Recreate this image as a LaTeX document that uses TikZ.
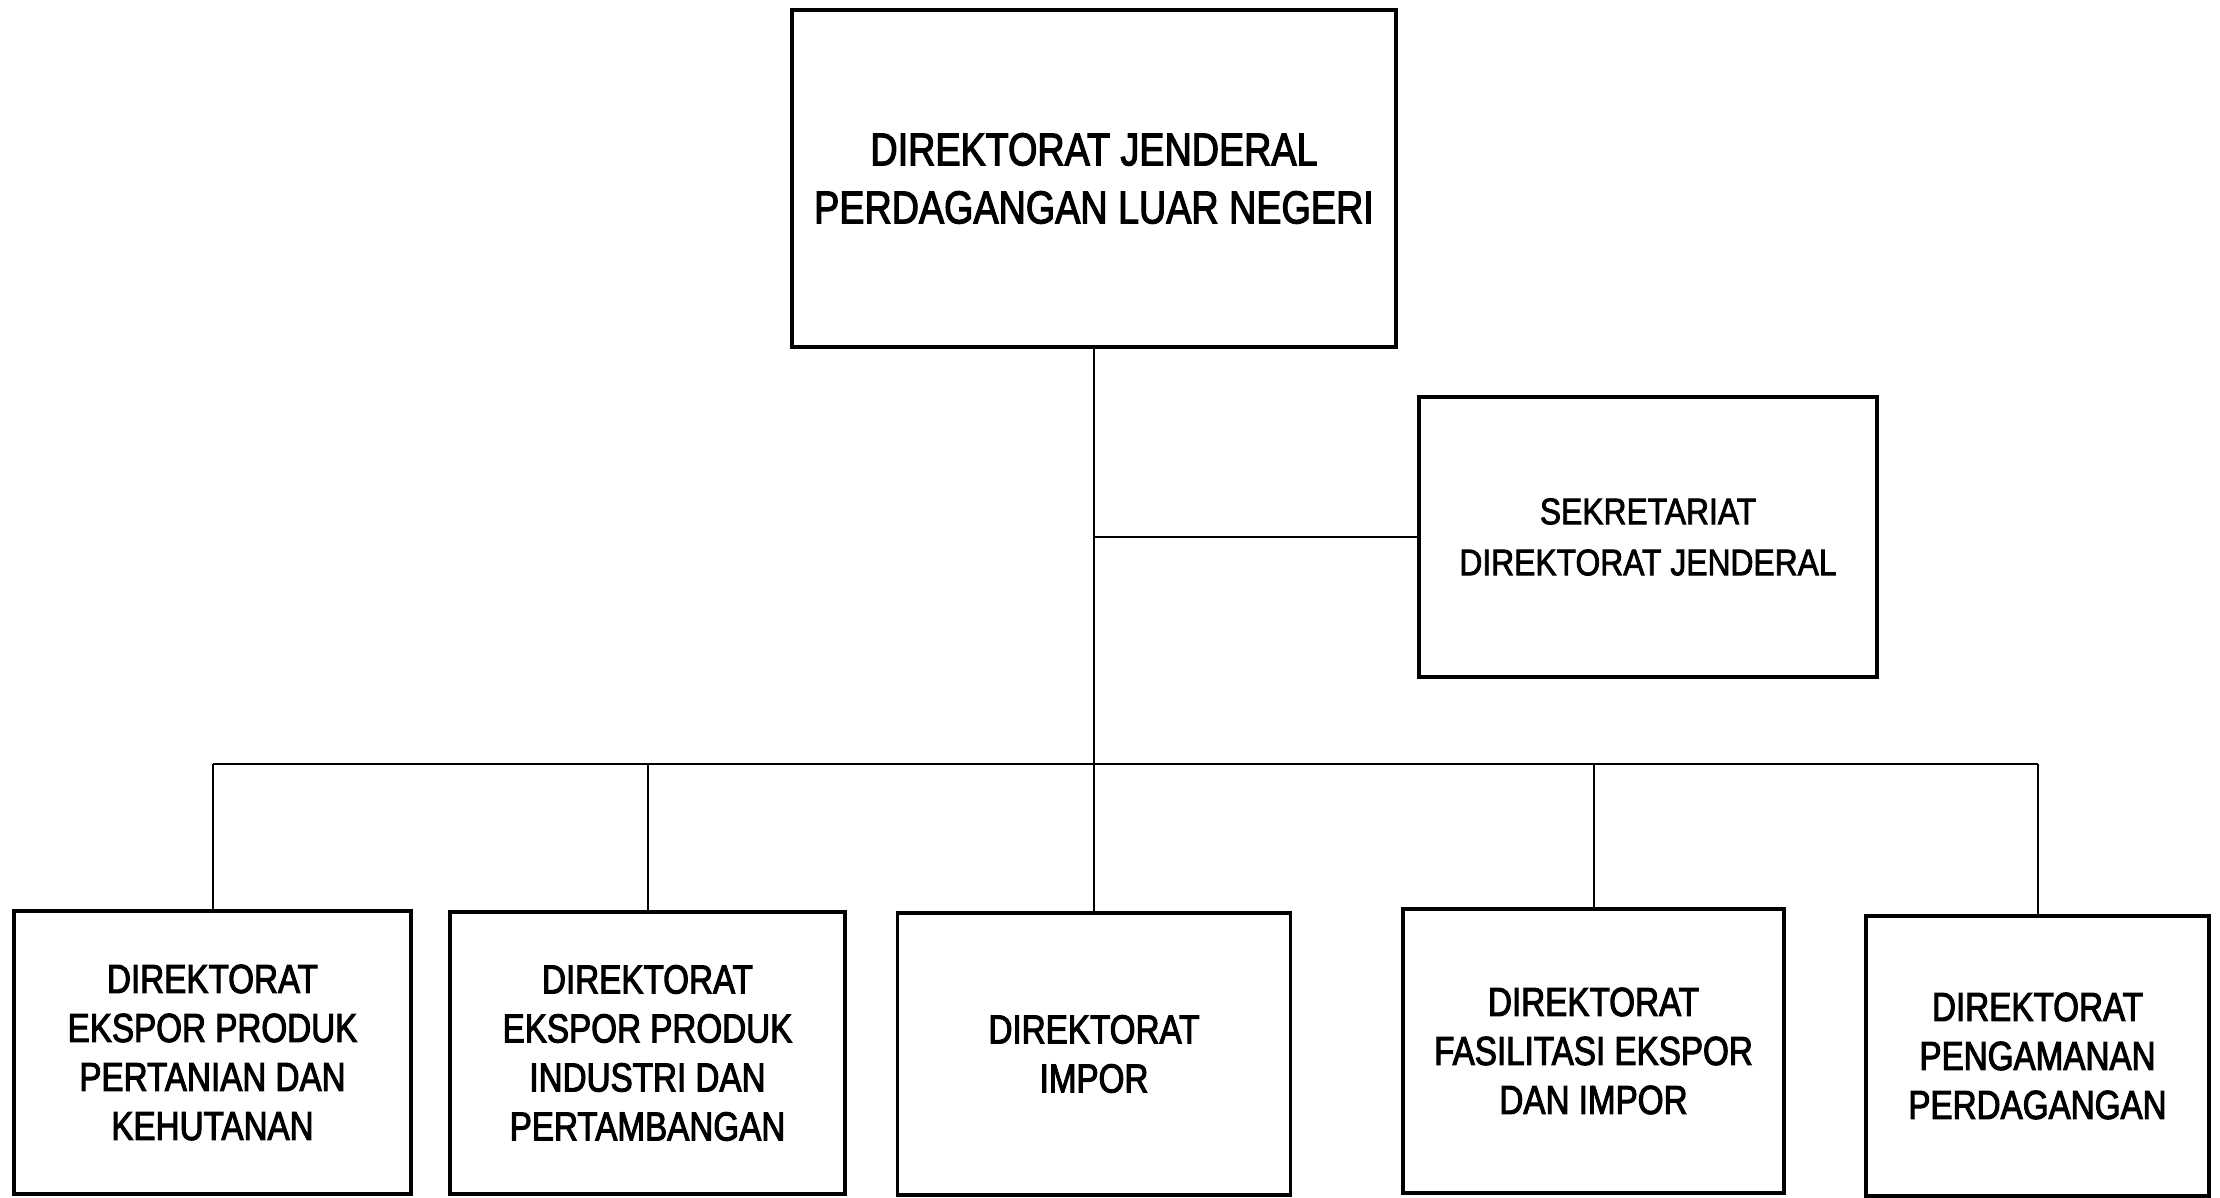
\documentclass[tikz,border=0pt]{standalone}
\usepackage{fontspec}
\setmainfont[FakeStretch=0.82,FakeBold=2.5]{Liberation Sans}
\newfontfamily\sekfont[FakeStretch=0.86,FakeBold=2]{Liberation Sans}
\begin{document}
\begin{tikzpicture}[x=1pt,y=-1pt,
  box/.style={draw=black,line width=3.5pt,rectangle,inner sep=0pt,outer sep=0pt,align=center},
  topbox/.style={box,font=\fontsize{46}{58}\selectfont},
  sekbox/.style={box,font=\sekfont\fontsize{37}{51}\selectfont},
  dirbox/.style={box,font=\fontsize{40.5}{49}\selectfont},
  conn/.style={draw=black,line width=2pt}]
\useasboundingbox (0,0) rectangle (2220,1198);
\node[topbox,minimum width=604pt,minimum height=337pt] (top) at (1094,178.5) {DIREKTORAT JENDERAL\\PERDAGANGAN LUAR NEGERI};
\node[sekbox,minimum width=458pt,minimum height=280pt] (sek) at (1648,537) {SEKRETARIAT\\DIREKTORAT JENDERAL};
\node[dirbox,minimum width=397pt,minimum height=283pt] (b1) at (212.5,1052.5) {DIREKTORAT\\EKSPOR PRODUK\\PERTANIAN DAN\\KEHUTANAN};
\node[dirbox,minimum width=395pt,minimum height=282pt] (b2) at (647.5,1053) {DIREKTORAT\\EKSPOR PRODUK\\INDUSTRI DAN\\PERTAMBANGAN};
\node[dirbox,minimum width=393pt,minimum height=282pt] (b3) at (1094,1054) {DIREKTORAT\\IMPOR};
\node[dirbox,minimum width=381pt,minimum height=284pt] (b4) at (1593.5,1051) {DIREKTORAT\\FASILITASI EKSPOR\\DAN IMPOR};
\node[dirbox,minimum width=343pt,minimum height=280pt] (b5) at (2037.5,1056) {DIREKTORAT\\PENGAMANAN\\PERDAGANGAN};
\coordinate (bus) at (1094,764);
\draw[conn] (top.south) -- (b3.north);
\draw[conn] (top.south |- sek.west) -- (sek.west);
\draw[conn] (b1.north |- bus) -- (b5.north |- bus);
\draw[conn] (b1.north |- bus) -- (b1.north);
\draw[conn] (b2.north |- bus) -- (b2.north);
\draw[conn] (b4.north |- bus) -- (b4.north);
\draw[conn] (b5.north |- bus) -- (b5.north);
\end{tikzpicture}
\end{document}
